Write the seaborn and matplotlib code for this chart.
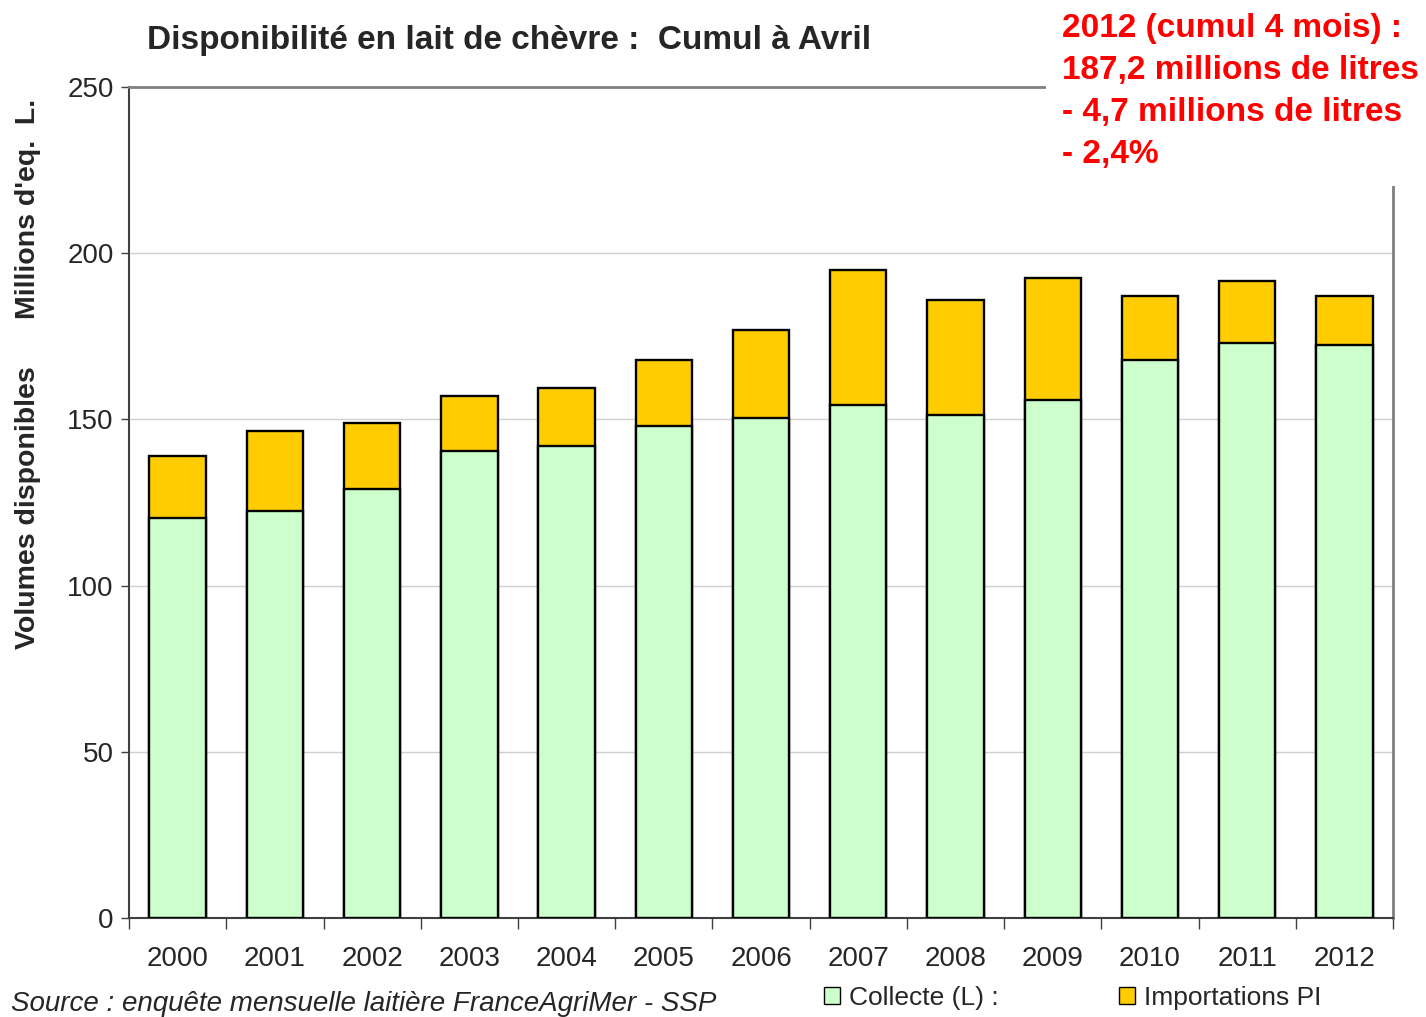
import numpy as np
import pandas as pd
import seaborn as sns
import matplotlib.pyplot as plt

# Values (millions of litres, cumulative to April)
annees = ['2000', '2001', '2002', '2003', '2004', '2005', '2006',
          '2007', '2008', '2009', '2010', '2011', '2012']
collecte = [120.3, 122.4, 129.1, 140.5, 142.0, 148.0, 150.4,
            154.3, 151.3, 155.8, 167.9, 173.0, 172.4]
importations = [18.7, 24.1, 19.8, 16.5, 17.4, 19.9, 26.5,
                40.6, 34.6, 36.7, 19.2, 18.6, 14.8]

df = pd.DataFrame({'annee': annees, 'collecte': collecte, 'importations': importations})
df['total'] = df['collecte'] + df['importations']

sns.set_style('white')
plt.rcParams['font.family'] = ['Liberation Sans', 'DejaVu Sans']

fig = plt.figure(figsize=(14.26, 10.17), dpi=100)
ax = fig.add_axes([0.0905, 0.0973, 0.8864, 0.8172])

green = '#CCFFCC'
yellow = '#FFCC00'

# stacked bars: total first (imports on top), then collecte over it
sns.barplot(data=df, x='annee', y='total', color=yellow, width=0.58,
            edgecolor='black', linewidth=1.7, saturation=1, ax=ax, zorder=3)
sns.barplot(data=df, x='annee', y='collecte', color=green, width=0.58,
            edgecolor='black', linewidth=1.7, saturation=1, ax=ax, zorder=4)

ax.set_xlim(-0.5, 12.5)
ax.set_ylim(0, 250)
ax.set_yticks([0, 50, 100, 150, 200, 250])
ax.yaxis.grid(True, color='#d0d0d0', linewidth=1)
ax.set_axisbelow(True)

ax.tick_params(axis='y', which='major', direction='out', length=6, width=1,
               color='#404040', labelsize=20, pad=5, left=True)
ax.tick_params(axis='x', which='major', length=0, labelsize=20, pad=20)
ax.set_xticks(np.arange(-0.5, 13, 1), minor=True)
ax.tick_params(axis='x', which='minor', direction='out', length=8, width=1,
               color='#404040', bottom=True)

for side in ['left', 'bottom']:
    ax.spines[side].set_color('#404040')
    ax.spines[side].set_linewidth(1.5)
for side in ['top', 'right']:
    ax.spines[side].set_color('#808080')
    ax.spines[side].set_linewidth(2)

ax.set_xlabel('')
ax.set_ylabel("Volumes disponibles      Millions d'eq.  L.", fontsize=20.5,
              fontweight='bold')
ax.yaxis.set_label_coords(-0.070, 0.655)

fig.text(0.103, 0.960, 'Disponibilité en lait de chèvre :  Cumul à Avril',
         fontsize=24, fontweight='bold', va='center', ha='left')

fig.text(0.745, 0.987,
         '2012 (cumul 4 mois) :\n187,2 millions de litres\n- 4,7 millions de litres\n- 2,4%',
         fontsize=24, fontweight='bold', color='#FF0000', va='top', ha='left',
         linespacing=1.45,
         bbox=dict(facecolor='white', edgecolor='none', pad=12))

fig.text(0.008, 0.013, 'Source : enquête mensuelle laitière FranceAgriMer - SSP',
         fontsize=20, style='italic', va='center', ha='left')

# legend entries at the bottom
ax.bar([0], [0], color=green, edgecolor='black', label='Collecte (L) :')
ax.bar([0], [0], color=yellow, edgecolor='black', label='Importations PI')
handles, labels = ax.get_legend_handles_labels()
fig.legend(handles[-2:-1], labels[-2:-1], loc='center left',
           bbox_to_anchor=(0.578, 0.019), frameon=False, fontsize=19,
           handlelength=0.6, handleheight=0.6, handletextpad=0.35,
           borderaxespad=0, borderpad=0)
fig.legend(handles[-1:], labels[-1:], loc='center left',
           bbox_to_anchor=(0.785, 0.019), frameon=False, fontsize=19,
           handlelength=0.6, handleheight=0.6, handletextpad=0.35,
           borderaxespad=0, borderpad=0)

fig.savefig('out.png', dpi=100)
